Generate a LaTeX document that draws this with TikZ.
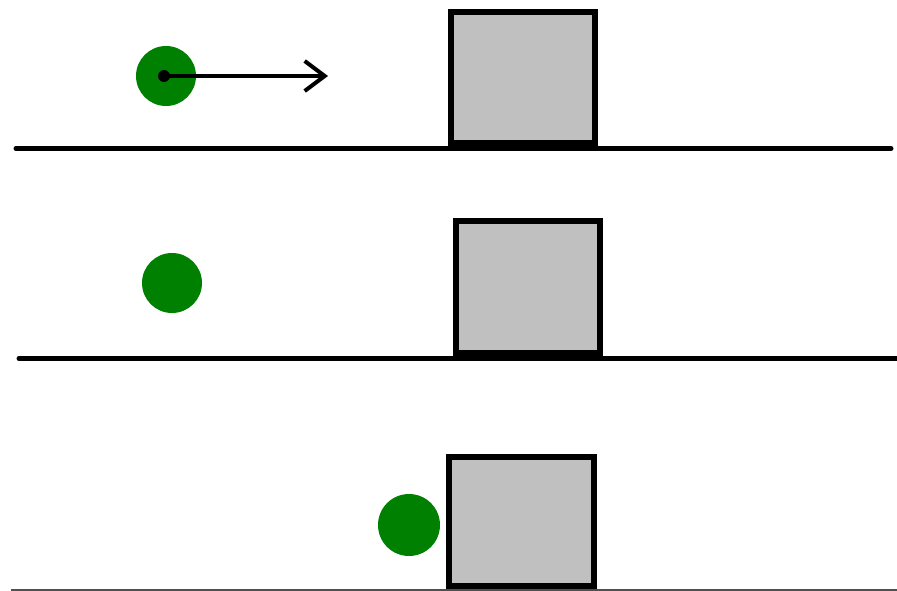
\documentclass[tikz,border=0pt]{standalone}
\usetikzlibrary{arrows.meta}
\definecolor{ballgreen}{RGB}{0,128,0}
\definecolor{boxgray}{RGB}{192,192,192}
\definecolor{floorgray}{RGB}{80,80,80}
\begin{document}
\begin{tikzpicture}[x=1pt,y=-1pt,
  ball/.style={circle,fill=ballgreen,draw=none,minimum size=#1,inner sep=0pt},
  crate/.style={draw=black,fill=boxgray,line width=6pt},
  ground/.style={draw=black,line width=5pt,line cap=round},
  dotnode/.style={circle,fill=black,minimum size=12pt,inner sep=0pt}]
\useasboundingbox (0,0) rectangle (897,591);
\fill[white] (0,0) rectangle (897,591);
% panel 1
\draw[crate] (451,12) rectangle (595,143);
\draw[ground] (16,148.5) -- (891,148.5);
\node[ball=60pt] (b1) at (166,76) {};
\node[dotnode] (d1) at (164,76) {};
\coordinate (a1) at (328,76);
\draw[line width=4pt,-{Straight Barb[length=20pt,width=30pt,line width=4pt]}] (d1.center) -- (a1);
% panel 2
\draw[crate] (456,221) rectangle (600,353);
\draw[ground] (19,358.5) -- (897,358.5);
\node[ball=60pt] (b2) at (172,283) {};
% panel 3
\draw[crate] (449,457) rectangle (594,586);
\draw[draw=floorgray,line width=2.5pt] (11,590) -- (897,590);
\node[ball=62pt] (b3) at (409,525) {};
\end{tikzpicture}
\end{document}
